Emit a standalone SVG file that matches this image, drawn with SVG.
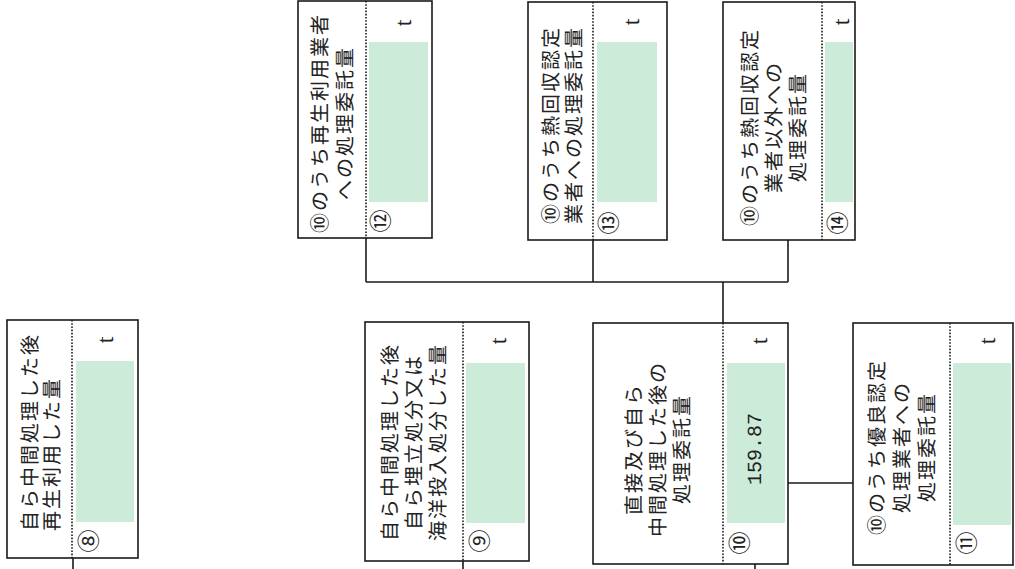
<svg xmlns="http://www.w3.org/2000/svg" width="1015" height="569" viewBox="0 0 1015 569">
<style>
.box{fill:#fff;stroke:#1a1a1a;stroke-width:1.6}
.dot{stroke:#1a1a1a;stroke-width:1.6;stroke-dasharray:1.6 1.6;fill:none}
.fill{fill:#cdebd9}
text{text-rendering:geometricPrecision}
.lbl{font-family:"Noto Sans CJK JP","Noto Sans",sans-serif;font-size:20px;fill:#222;letter-spacing:2px;dominant-baseline:central}
.q{font-family:"Noto Sans CJK SC","Noto Sans CJK JP",sans-serif}
.mid{text-anchor:middle}
.unit{font-family:"Liberation Serif",serif;font-size:24px;fill:#222;text-anchor:middle;dominant-baseline:central}
.num{font-family:"Noto Sans CJK JP",sans-serif;font-size:23px;fill:#222;text-anchor:middle;dominant-baseline:central}
.val{font-family:"Liberation Mono",monospace;font-size:20px;fill:#222;text-anchor:middle;dominant-baseline:central}
.conn{stroke:#1a1a1a;stroke-width:1.6;fill:none}
</style>
<rect width="1015" height="569" fill="#fff"/>
<g id="connectors">
<line class="conn" x1="73" y1="558" x2="73" y2="569"/>
<line class="conn" x1="463" y1="561" x2="463" y2="569"/>
<line class="conn" x1="755" y1="564" x2="755" y2="569"/>
<line class="conn" x1="723" y1="282" x2="723" y2="323"/>
<line class="conn" x1="366" y1="282" x2="788" y2="282"/>
<line class="conn" x1="366" y1="238" x2="366" y2="282"/>
<line class="conn" x1="593" y1="240" x2="593" y2="282"/>
<line class="conn" x1="788" y1="240" x2="788" y2="282"/>
<line class="conn" x1="788" y1="483" x2="853" y2="483"/>
</g>
<g id="node8">
<rect class="box" x="7" y="320" width="131" height="238"/>
<rect class="fill" x="76" y="361" width="58" height="161"/>
<line class="dot" x1="72" y1="320" x2="72" y2="558"/>
<text class="lbl" transform="translate(28,531) rotate(-90)">自ら中間処理した後</text>
<text class="lbl" transform="translate(50,531) rotate(-90)">再生利用した<tspan class="q">量</tspan></text>
<text class="unit" transform="translate(106,340) rotate(-90)">t</text>
<text class="num" transform="translate(87,541) rotate(-90)">⑧</text>
</g>
<g id="node9">
<rect class="box" x="365" y="322" width="164" height="239"/>
<rect class="fill" x="466" y="363" width="59" height="160"/>
<line class="dot" x1="463" y1="322" x2="463" y2="561"/>
<text class="lbl mid" transform="translate(388,442) rotate(-90)">自ら中間処理した後</text>
<text class="lbl mid" transform="translate(412,442) rotate(-90)">自ら埋立処分又は</text>
<text class="lbl mid" transform="translate(436,442) rotate(-90)">海洋投入処分した<tspan class="q">量</tspan></text>
<text class="unit" transform="translate(499,341) rotate(-90)">t</text>
<text class="num" transform="translate(478,541) rotate(-90)">⑨</text>
</g>
<g id="node10">
<rect class="box" x="593" y="323" width="195" height="241"/>
<rect class="fill" x="727" y="363" width="58" height="160"/>
<line class="dot" x1="723" y1="323" x2="723" y2="564"/>
<text class="lbl mid" transform="translate(632,449) rotate(-90)">直接及び自ら</text>
<text class="lbl mid" transform="translate(656,449) rotate(-90)">中間処理した後の</text>
<text class="lbl mid" transform="translate(680,449) rotate(-90)">処理委託<tspan class="q">量</tspan></text>
<text class="val" transform="translate(756,449) rotate(-90)">159.87</text>
<text class="unit" transform="translate(760,341) rotate(-90)">t</text>
<text class="num" transform="translate(738,543) rotate(-90)">⑩</text>
</g>
<g id="node11">
<rect class="box" x="853" y="323" width="160" height="242"/>
<rect class="fill" x="953" y="363" width="58" height="162"/>
<line class="dot" x1="950" y1="323" x2="950" y2="565"/>
<text class="lbl mid" transform="translate(875,447) rotate(-90)">⑩のうち優良認定</text>
<text class="lbl mid" transform="translate(900,447) rotate(-90)">処理業者への</text>
<text class="lbl mid" transform="translate(925,447) rotate(-90)">処理委託<tspan class="q">量</tspan></text>
<text class="unit" transform="translate(988,341) rotate(-90)">t</text>
<text class="num" transform="translate(965,543) rotate(-90)">⑪</text>
</g>
<g id="node12">
<rect class="box" x="298" y="1" width="134" height="237"/>
<rect class="fill" x="369" y="42" width="59" height="160"/>
<line class="dot" x1="366" y1="1" x2="366" y2="238"/>
<text class="lbl mid" transform="translate(318,123) rotate(-90)">⑩のうち再生利用業者</text>
<text class="lbl mid" transform="translate(343,123) rotate(-90)">への処理委託<tspan class="q">量</tspan></text>
<text class="unit" transform="translate(404,23) rotate(-90)">t</text>
<text class="num" transform="translate(379,221) rotate(-90)">⑫</text>
</g>
<g id="node13">
<rect class="box" x="528" y="2" width="139" height="238"/>
<rect class="fill" x="597" y="42" width="60" height="160"/>
<line class="dot" x1="593" y1="2" x2="593" y2="240"/>
<text class="lbl mid" transform="translate(549,125) rotate(-90)">⑩のうち熱回収認定</text>
<text class="lbl mid" transform="translate(572,125) rotate(-90)">業者への処理委託<tspan class="q">量</tspan></text>
<text class="unit" transform="translate(632,22) rotate(-90)">t</text>
<text class="num" transform="translate(607,223) rotate(-90)">⑬</text>
</g>
<g id="node14">
<rect class="box" x="723" y="2" width="132" height="238"/>
<rect class="fill" x="825" y="42" width="28" height="160"/>
<line class="dot" x1="822" y1="2" x2="822" y2="240"/>
<text class="lbl mid" transform="translate(748,127) rotate(-90)">⑩のうち熱回収認定</text>
<text class="lbl mid" transform="translate(772,127) rotate(-90)">業者以外への</text>
<text class="lbl mid" transform="translate(796,127) rotate(-90)">処理委託<tspan class="q">量</tspan></text>
<text class="unit" transform="translate(842,22) rotate(-90)">t</text>
<text class="num" transform="translate(836,223) rotate(-90)">⑭</text>
</g>
</svg>
